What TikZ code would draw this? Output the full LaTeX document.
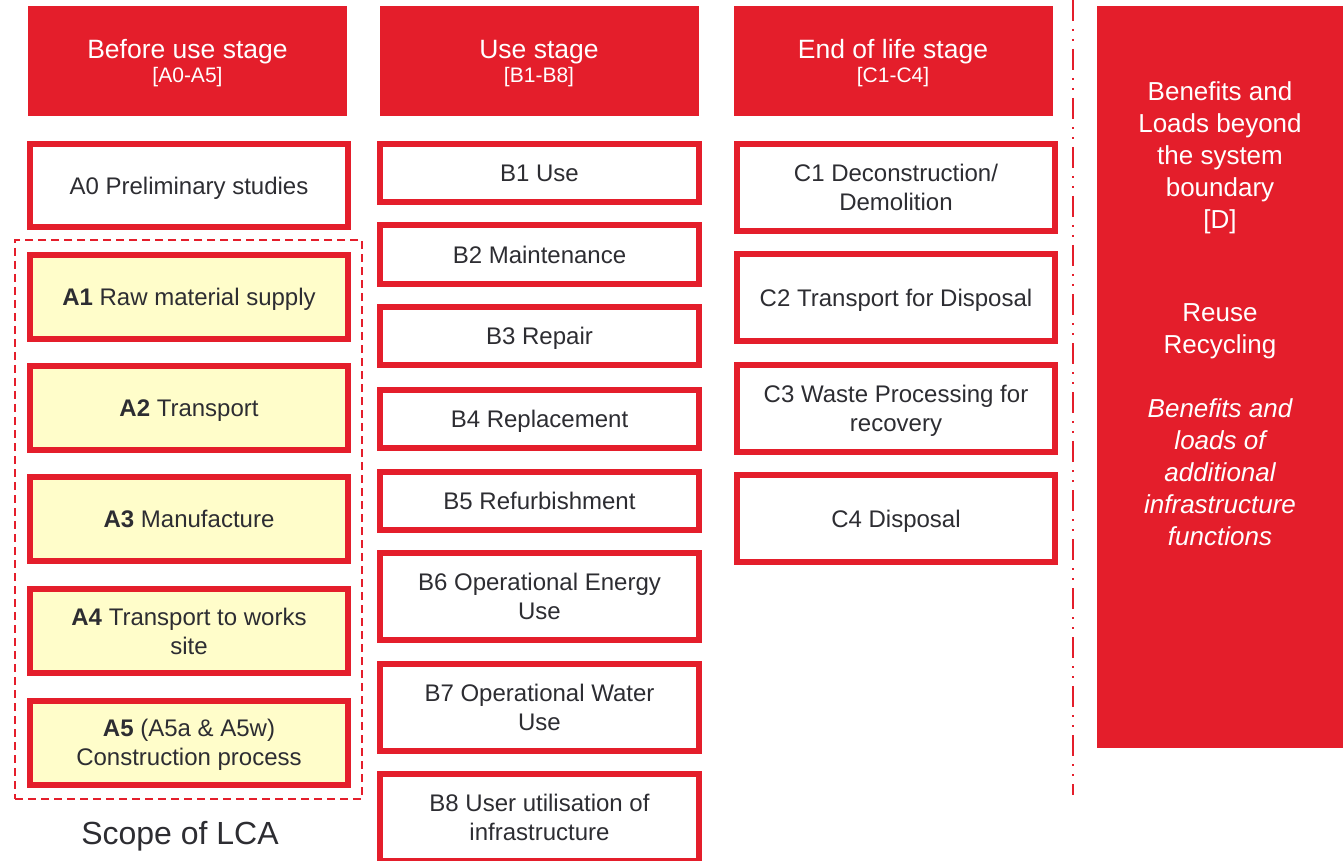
\documentclass[tikz,border=0pt]{standalone}
\usepackage{fontspec}
\setmainfont{Liberation Sans}
\definecolor{lcared}{RGB}{228,30,43}
\definecolor{lcayellow}{RGB}{255,253,202}
\definecolor{lcatext}{RGB}{45,45,50}
\tikzset{
	head node/.style={rectangle, fill=lcared, text=white, align=center, inner sep=0pt, minimum width=159.5pt, minimum height=55pt, text depth=0pt, font=\fontsize{13.25}{12}\selectfont},
	stage node/.style={rectangle, draw=lcared, line width=3pt, fill=white, text=lcatext, align=center, inner sep=0pt, text depth=0pt, font=\fontsize{12}{14.5}\selectfont},
	scope node/.style={stage node, fill=lcayellow, minimum width=159pt, minimum height=42pt},
	use node/.style={stage node, minimum width=159.5pt, minimum height=29pt},
	tall node/.style={stage node, minimum width=159.5pt, minimum height=43.5pt},
	end node/.style={stage node, minimum width=159pt, minimum height=43.5pt},
	benefit node/.style={align=center, text=white, inner sep=0pt, font=\fontsize{13}{16}\selectfont},
	frame node/.style={rectangle, draw=lcared, line width=1pt, dash pattern=on 4pt off 2.5pt, inner sep=0pt},
	divider line/.style={lcared, line width=1pt, dash pattern=on 10.5pt off 4pt on 1pt off 4pt on 1pt off 4pt},
}

\begin{document}
\begin{tikzpicture}[x=0.5pt, y=-0.5pt]
\useasboundingbox (0,0) rectangle (1343,861);

\node[head node] (headA) at (187.5,61) {Before use stage\\[0pt]{\fontsize{10.5}{12}\selectfont [A0-A5]}};
\node[head node] (headB) at (539,61) {Use stage\\[0pt]{\fontsize{10.5}{12}\selectfont [B1-B8]}};
\node[head node] (headC) at (893,61) {End of life stage\\[0pt]{\fontsize{10.5}{12}\selectfont [C1-C4]}};

\node[frame node, minimum width=173.5pt, minimum height=279.5pt] (lca) at (188.5,519.5) {};
\node[text=lcatext, font=\fontsize{16}{19}\selectfont] (scope) at (180,836) {Scope of LCA};

\node[stage node, minimum width=159pt, minimum height=41.5pt] (A0) at (189,185.5) {A0 Preliminary studies};
\node[scope node] (A1) at (189,297) {\textbf{A1} Raw material supply};
\node[scope node] (A2) at (189,408) {\textbf{A2} Transport};
\node[scope node] (A3) at (189,519) {\textbf{A3} Manufacture};
\node[scope node] (A4) at (189,631) {\textbf{A4} Transport to works\\site};
\node[scope node] (A5) at (189,742.5) {\textbf{A5} (A5a \& A5w)\\Construction process};

\node[use node] (B1) at (539.5,173.5) {B1 Use};
\node[use node] (B2) at (539.5,254.5) {B2 Maintenance};
\node[use node] (B3) at (539.5,335.5) {B3 Repair};
\node[use node] (B4) at (539.5,418.5) {B4 Replacement};
\node[use node] (B5) at (539.5,500.5) {B5 Refurbishment};
\node[tall node] (B6) at (539.5,596.5) {B6 Operational Energy\\Use};
\node[tall node] (B7) at (539.5,707) {B7 Operational Water\\Use};
\node[tall node] (B8) at (539.5,817.5) {B8 User utilisation of\\infrastructure};

\node[end node] (C1) at (896,187.5) {C1 Deconstruction/\\Demolition};
\node[end node] (C2) at (896,297.5) {C2 Transport for Disposal};
\node[end node] (C3) at (896,408.5) {C3 Waste Processing for\\recovery};
\node[end node] (C4) at (896,518.5) {C4 Disposal};

\coordinate (divtop) at (1073,0);
\coordinate (divbot) at (1073,795);
\draw[divider line] (divtop) -- (divbot);

\node[rectangle, fill=lcared, inner sep=0pt, minimum width=123pt, minimum height=371pt] (D) at (1220,377) {};
\node[benefit node] (Dtop) at (1220,158) {Benefits and\\Loads beyond\\the system\\boundary\\{[D]}};
\node[benefit node] (Dmid) at (1220,331) {Reuse\\Recycling};
\node[benefit node, font=\fontsize{13}{16}\selectfont\itshape] (Dlow) at (1220,472) {Benefits and\\loads of\\additional\\infrastructure\\functions};

\end{tikzpicture}
\end{document}
